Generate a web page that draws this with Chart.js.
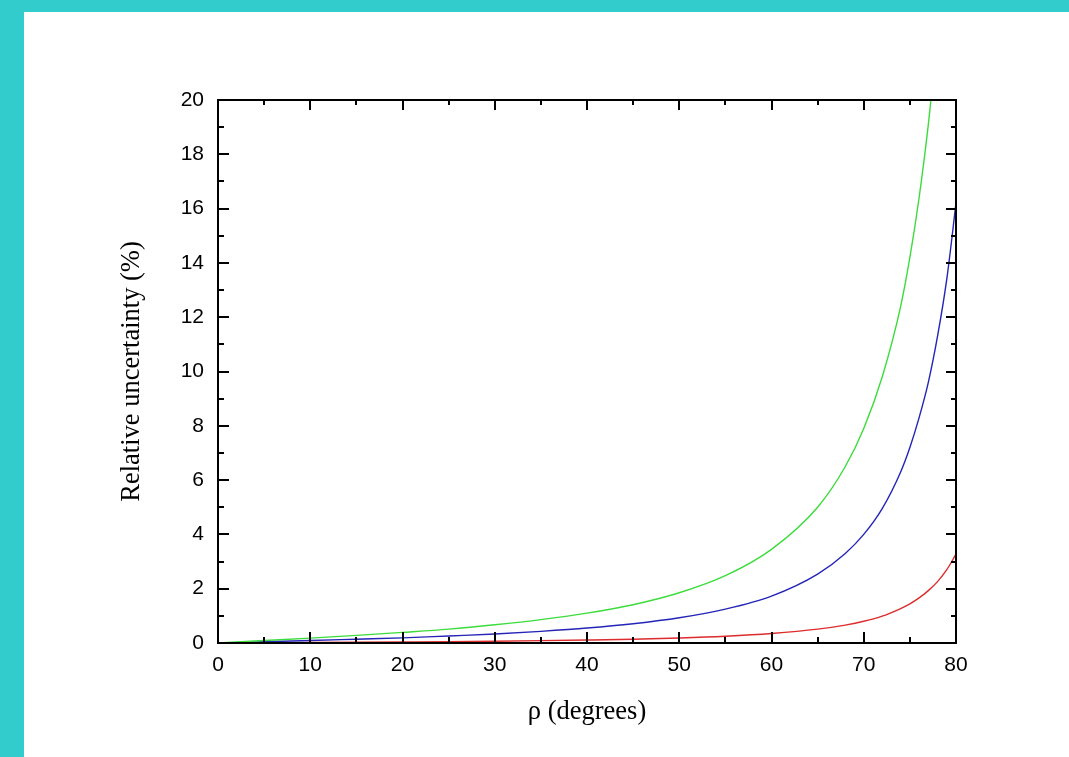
<!DOCTYPE html>
<html>
<head>
<meta charset="utf-8">
<script src="https://cdn.jsdelivr.net/npm/chart.js@4"></script>
<style>
  html, body { margin: 0; padding: 0; background: #33cccc; }
  #wrap { position: absolute; left: 24px; top: 12px; width: 1045px; height: 745px; background: #fff; }
</style>
</head>
<body>
<div id="wrap"><canvas id="chart" width="1045" height="745"></canvas></div>
<script>
// rho (degrees)
const angles = [0, 5, 10, 15, 20, 25, 30, 35, 40, 45, 50, 55, 60, 65, 68, 70, 72, 74, 75, 76, 77, 78, 79, 80];
// relative uncertainty (%)
const greenVals = [0, 0.09, 0.18, 0.28, 0.39, 0.51, 0.67, 0.86, 1.10, 1.41, 1.85, 2.48, 3.45, 5.0, 6.5, 7.9, 9.8, 12.4, 14.2, 16.4, 19.1, 22.5, null, null];
const blueVals = [0, 0.044, 0.09, 0.14, 0.19, 0.26, 0.33, 0.43, 0.55, 0.71, 0.93, 1.25, 1.73, 2.54, 3.30, 4.0, 4.95, 6.3, 7.2, 8.3, 9.6, 11.3, 13.4, 16.2];
const redVals = [0, 0.009, 0.018, 0.028, 0.039, 0.051, 0.067, 0.086, 0.11, 0.14, 0.185, 0.25, 0.35, 0.51, 0.66, 0.80, 0.99, 1.27, 1.44, 1.66, 1.93, 2.26, 2.70, 3.27];

const xTicks = [0, 10, 20, 30, 40, 50, 60, 70, 80];
const yTicks = [0, 2, 4, 6, 8, 10, 12, 14, 16, 18, 20];

const pts = vals => angles.map((a, i) => ({ x: a, y: vals[i] }));

// frame box plus inward major/minor ticks on all four sides
const frameTicks = {
    id: 'frameTicks',
    afterDatasetsDraw(chart) {
        const { ctx, chartArea: a, scales: { x, y } } = chart;
        ctx.save();
        ctx.strokeStyle = '#000';
        ctx.lineWidth = 2;
        ctx.strokeRect(a.left, a.top, a.right - a.left, a.bottom - a.top);
        ctx.beginPath();
        const major = 11, minor = 6;
        const xs = [];
        xTicks.forEach((v, i) => {
            xs.push([v, major]);
            if (i < xTicks.length - 1) xs.push([(v + xTicks[i + 1]) / 2, minor]);
        });
        xs.forEach(([v, len]) => {
            const px = Math.round(x.getPixelForValue(v));
            ctx.moveTo(px, a.bottom); ctx.lineTo(px, a.bottom - len);
            ctx.moveTo(px, a.top); ctx.lineTo(px, a.top + len - 1);
        });
        const ys = [];
        yTicks.forEach((v, i) => {
            ys.push([v, major]);
            if (i < yTicks.length - 1) ys.push([(v + yTicks[i + 1]) / 2, minor]);
        });
        ys.forEach(([v, len]) => {
            const py = Math.round(y.getPixelForValue(v));
            ctx.moveTo(a.left, py); ctx.lineTo(a.left + len, py);
            ctx.moveTo(a.right, py); ctx.lineTo(a.right - len + 1, py);
        });
        ctx.stroke();
        ctx.restore();
    }
};

const line = (vals, color) => ({
    data: pts(vals),
    borderColor: color,
    borderWidth: 1.4,
    pointRadius: 0,
    fill: false,
    cubicInterpolationMode: 'monotone',
    spanGaps: false
});

new Chart(document.getElementById('chart').getContext('2d'), {
    type: 'line',
    data: {
        datasets: [
            line(greenVals, '#3cdc3c'),
            line(blueVals, '#2424b8'),
            line(redVals, '#dc2c2c')
        ]
    },
    options: {
        responsive: false,
        animation: false,
        devicePixelRatio: 1,
        layout: { padding: { left: 0, top: 88, right: 113, bottom: 0 } },
        plugins: { legend: { display: false }, tooltip: { enabled: false } },
        scales: {
            x: {
                type: 'linear',
                min: 0,
                max: 80,
                afterBuildTicks: s => { s.ticks = xTicks.map(v => ({ value: v })); },
                afterFit: s => { s.height = 114; },
                grid: { display: false, drawTicks: false },
                border: { display: false },
                ticks: { color: '#000', padding: 10, maxRotation: 0, font: { family: 'Liberation Sans, Arial', size: 21 } },
                title: {
                    display: true,
                    text: 'ρ (degrees)',
                    color: '#000',
                    padding: { top: 0, bottom: 29 },
                    font: { family: 'Liberation Serif, Times New Roman', size: 26.5 }
                }
            },
            y: {
                type: 'linear',
                min: 0,
                max: 20,
                afterBuildTicks: s => { s.ticks = yTicks.map(v => ({ value: v })); },
                afterFit: s => { s.width = 194; },
                grid: { display: false, drawTicks: false },
                border: { display: false },
                ticks: { color: '#000', padding: 14, font: { family: 'Liberation Sans, Arial', size: 21 } },
                title: {
                    display: true,
                    text: 'Relative uncertainty (%)',
                    color: '#000',
                    padding: { top: 92, bottom: 0 },
                    font: { family: 'Liberation Serif, Times New Roman', size: 26.5 }
                }
            }
        }
    },
    plugins: [frameTicks]
});
</script>
</body>
</html>
